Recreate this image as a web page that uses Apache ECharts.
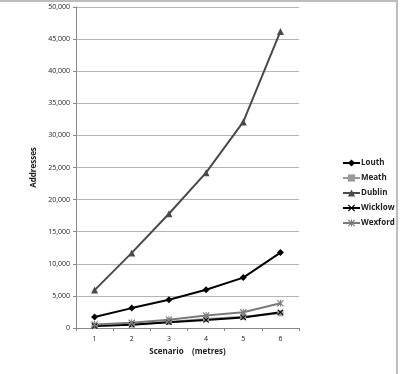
<!DOCTYPE html>
<html><head><meta charset="utf-8">
<script src="https://cdn.jsdelivr.net/npm/echarts@6/dist/echarts.min.js"></script>
<style>html,body{margin:0;padding:0;background:#fff}#c{width:400px;height:374px}</style>
</head><body><div id="c"></div>
<script>
const categories = ['1','2','3','4','5','6'];
const louth   = [1700, 3100, 4400, 5950, 7850, 11750];
const meath   = [350, 550, 950, 1400, 1750, 2300];
const dublin  = [5900, 11700, 17800, 24200, 32100, 46200];
const wicklow = [300, 500, 900, 1250, 1650, 2450];
const wexford = [550, 800, 1300, 1950, 2450, 3850];
const seriesNames = ['Louth','Meath','Dublin','Wicklow','Wexford'];

const X = 'path://M0,1.2L1.2,0L5,3.8L8.8,0L10,1.2L6.2,5L10,8.8L8.8,10L5,6.2L1.2,10L0,8.8L3.8,5Z';
const AST = 'path://M0,1.2L1.2,0L5,3.8L8.8,0L10,1.2L6.2,5L10,8.8L8.8,10L5,6.2L1.2,10L0,8.8L3.8,5Z M4.3,0L5.7,0L5.7,10L4.3,10Z';

const font = 'Open Sans';
function s(name, data, color, symbol, size){
  return {name, type:'line', data, symbol, symbolSize:size,
    lineStyle:{color, width:2}, itemStyle:{color},
    emphasis:{disabled:true}, animation:false};
}
const chart = echarts.init(document.getElementById('c'));
chart.setOption({
  backgroundColor:'#fff',
  animation:false,
  graphic:[{type:'rect', shape:{x:-3,y:1,width:400,height:380}, style:{fill:'none',stroke:'#bdbdbd',lineWidth:2}, silent:true}],
  grid:{left:76, right:101, top:7, bottom:46},
  legend:{orient:'vertical', left:342, top:159, padding:0, itemGap:7, itemWidth:17, itemHeight:9,
    textStyle:{fontFamily:font, fontSize:8, fontWeight:'bold', color:'#222', padding:[0,0,0,-4]},
    data:seriesNames},
  xAxis:{type:'category', data:categories, boundaryGap:true,
    name:'Scenario    (metres)', nameLocation:'middle', nameGap:20,
    nameTextStyle:{fontFamily:font, fontSize:8, fontWeight:'bold', color:'#222'},
    axisLine:{lineStyle:{color:'#888', width:1}},
    axisTick:{show:true, length:3, lineStyle:{color:'#888'}},
    axisLabel:{fontFamily:font, fontSize:7, color:'#222', margin:7}},
  yAxis:{type:'value', min:0, max:50000, interval:5000,
    name:'Addresses', nameLocation:'middle', nameGap:38, nameRotate:90,
    nameTextStyle:{fontFamily:font, fontSize:8, fontWeight:'bold', color:'#222'},
    axisLine:{show:true, lineStyle:{color:'#888', width:1}},
    axisTick:{show:true, length:3, lineStyle:{color:'#888'}},
    splitLine:{lineStyle:{color:'#b5b5b5', width:1}},
    axisLabel:{fontFamily:font, fontSize:7, color:'#222', margin:6,
      formatter:v=>v.toLocaleString('en-US')}},
  series:[
    s('Louth', louth, '#000000', 'diamond', 7),
    s('Meath', meath, '#9a9a9a', 'rect', 6),
    s('Dublin', dublin, '#4a4a4a', 'triangle', 7),
    s('Wicklow', wicklow, '#000000', X, 6),
    s('Wexford', wexford, '#7a7a7a', AST, 7)
  ]
});
</script></body></html>
